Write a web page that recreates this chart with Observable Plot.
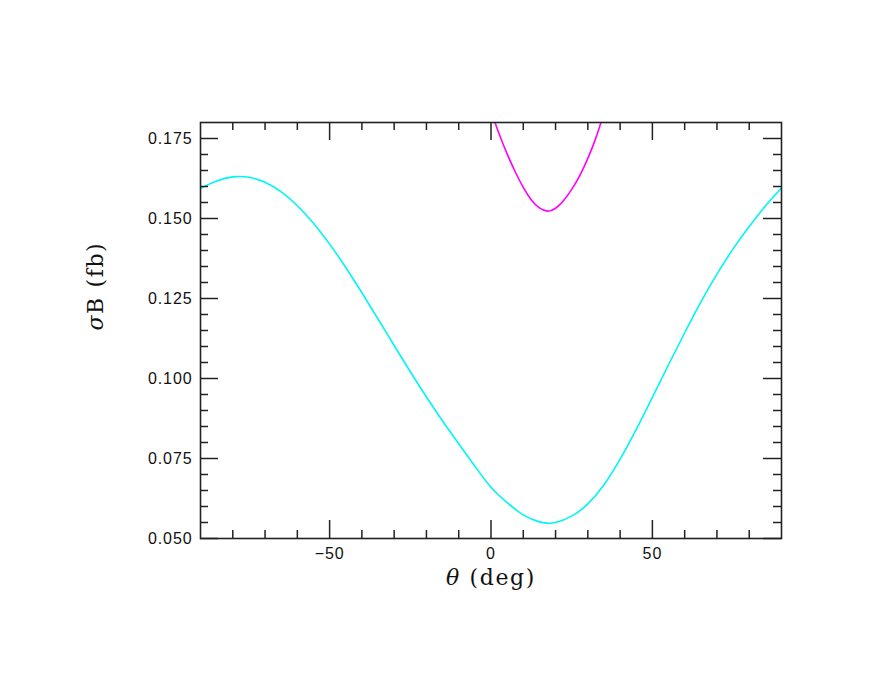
<!DOCTYPE html>
<html>
<head>
<meta charset="utf-8">
<script src="https://cdn.jsdelivr.net/npm/d3@7"></script>
<script src="https://cdn.jsdelivr.net/npm/@observablehq/plot@0.6"></script>
<style>
  body { margin: 0; background: #fff; }
  .ticklab text { letter-spacing: 0.9px; }
  .xtitle text, .ytitle text { letter-spacing: 1.6px; }
</style>
</head>
<body>
<div id="chart"></div>
<script>
// Cyan curve: theta (deg) and sigma*B (fb)
const cyanTheta = [-90,-85,-80,-75,-70,-65,-60,-55,-50,-45,-40,-35,-30,-25,-20,-15,-10,-5,0,5,10,15,17.5,20,25,30,35,40,45,50,55,60,65,70,75,80,85,90];
const cyanValue = [0.1594,0.1617,0.1630,0.1629,0.1613,0.1583,0.1540,0.1485,0.1420,0.1347,0.1268,0.1186,0.1103,0.1021,0.0942,0.0867,0.0796,0.0726,0.0660,0.0612,0.0574,0.0552,0.0548,0.0550,0.0570,0.0608,0.0668,0.0748,0.0841,0.0941,0.1043,0.1143,0.1239,0.1326,0.1405,0.1475,0.1539,0.1595];

// Magenta curve
const magTheta = [0,2.5,5,7.5,10,12.5,15,17.5,20,22.5,25,27.5,30,32.5,35];
const magValue = [0.1835,0.1765,0.1702,0.1646,0.1597,0.1558,0.1533,0.1523,0.1532,0.1556,0.1591,0.1634,0.1688,0.1752,0.1830];

// Axis ticks
const xMajor = [-50, 0, 50];
const xMinor = [-80,-70,-60,-40,-30,-20,-10,10,20,30,40,60,70,80];
const yMajor = [0.050, 0.075, 0.100, 0.125, 0.150, 0.175];
const yMinor = [0.055,0.060,0.065,0.070,0.080,0.085,0.090,0.095,0.105,0.110,0.115,0.120,0.130,0.135,0.140,0.145,0.155,0.160,0.165,0.170];

const xTitle = "θ (deg)";
const yTitle = "σB (fb)";

const cyan = cyanTheta.map((t, i) => ({theta: t, v: cyanValue[i]}));
const mag = magTheta.map((t, i) => ({theta: t, v: magValue[i]}));

const W = 896, H = 692;
const mT = 122, mB = 154, mL = 200, mR = 115;
const frameH = H - mT - mB;
const frameW = W - mL - mR;
const majorLen = 18, minorLen = 8;
const tickColor = "#222";

const chart = Plot.plot({
  width: W,
  height: H,
  marginTop: mT,
  marginBottom: mB,
  marginLeft: mL,
  marginRight: mR,
  style: {background: "#fff", color: "#111"},
  x: {domain: [-90, 90]},
  y: {domain: [0.05, 0.18]},
  marks: [
    Plot.line(cyan, {x: "theta", y: "v", stroke: "#00f5f5", strokeWidth: 1.6, curve: "natural", clip: true}),
    Plot.line(mag, {x: "theta", y: "v", stroke: "#ff00ff", strokeWidth: 1.6, curve: "natural", clip: true}),
    // inward ticks, bottom and top
    Plot.tickX(xMajor, {x: d => d, insetTop: frameH - majorLen, stroke: tickColor, strokeWidth: 1.5}),
    Plot.tickX(xMinor, {x: d => d, insetTop: frameH - minorLen, stroke: tickColor, strokeWidth: 1.5}),
    Plot.tickX(xMajor, {x: d => d, insetBottom: frameH - majorLen, stroke: tickColor, strokeWidth: 1.5}),
    Plot.tickX(xMinor, {x: d => d, insetBottom: frameH - minorLen, stroke: tickColor, strokeWidth: 1.5}),
    // inward ticks, left and right
    Plot.tickY(yMajor, {y: d => d, insetRight: frameW - majorLen, stroke: tickColor, strokeWidth: 1.5}),
    Plot.tickY(yMinor, {y: d => d, insetRight: frameW - minorLen, stroke: tickColor, strokeWidth: 1.5}),
    Plot.tickY(yMajor, {y: d => d, insetLeft: frameW - majorLen, stroke: tickColor, strokeWidth: 1.5}),
    Plot.tickY(yMinor, {y: d => d, insetLeft: frameW - minorLen, stroke: tickColor, strokeWidth: 1.5}),
    Plot.frame({stroke: tickColor, strokeWidth: 1.6}),
    Plot.axisX(xMajor, {tickSize: 0, tickPadding: 9, label: null, fontSize: 16, fontFamily: "Liberation Sans, Arial, sans-serif", fill: "#111", className: "ticklab"}),
    Plot.axisY(yMajor, {tickSize: 0, tickPadding: 8, label: null, tickFormat: d3.format(".3f"), fontSize: 16, fontFamily: "Liberation Sans, Arial, sans-serif", fill: "#111", className: "ticklab"}),
    Plot.text([xTitle], {frameAnchor: "bottom", dy: 46, text: d => d, fontSize: 22, fontFamily: "DejaVu Serif, serif", fill: "#111", className: "xtitle"}),
    Plot.text([yTitle], {frameAnchor: "left", dx: -105, rotate: -90, text: d => d, fontSize: 22, fontFamily: "DejaVu Serif, serif", fill: "#111", className: "ytitle"})
  ]
});

// italicize the Greek letters in the axis titles
d3.select(chart).selectAll(".xtitle text, .ytitle text").each(function() {
  const t = this.textContent;
  const sel = d3.select(this);
  sel.text(null);
  sel.append("tspan").attr("font-style", "italic").text(t[0]);
  sel.append("tspan").text(t.slice(1));
});

document.getElementById("chart").appendChild(chart);
</script>
</body>
</html>
